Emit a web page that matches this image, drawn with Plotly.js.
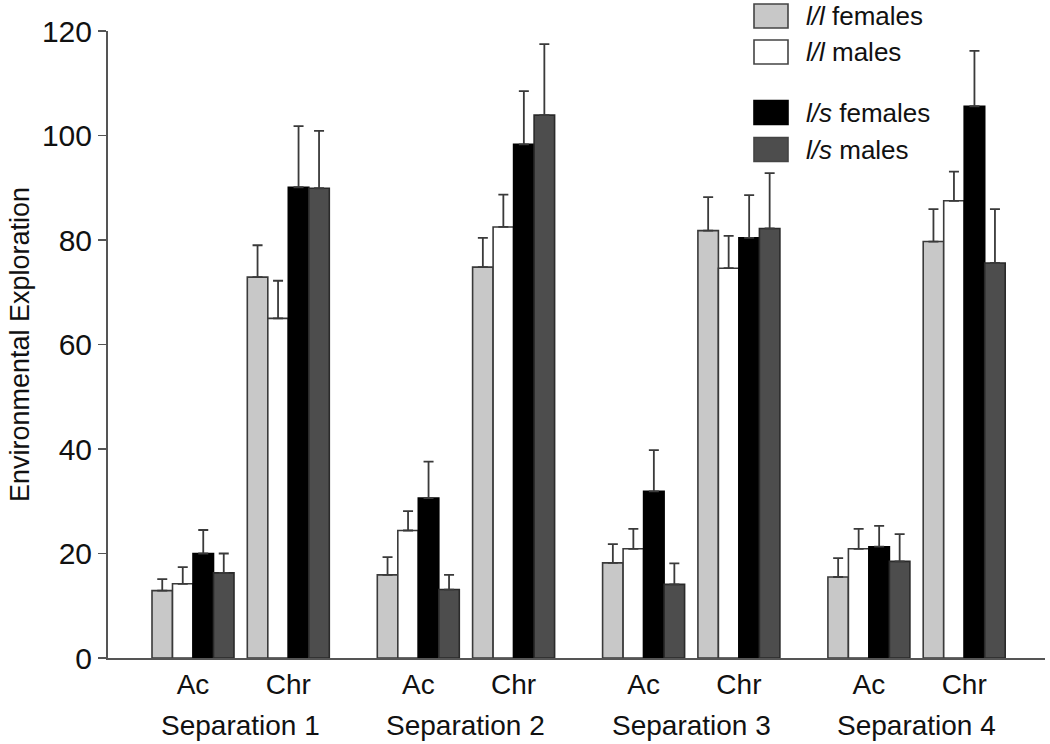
<!DOCTYPE html>
<html>
<head>
<meta charset="utf-8">
<script src="https://cdn.plot.ly/plotly-3.0.1.min.js"></script>
<style>html,body{margin:0;padding:0;background:#fff;}#chart{width:1050px;height:744px;}</style>
</head>
<body>
<div id="chart"></div>
<script>
// ---- data ----
const conditions = ['Ac', 'Chr'];
const separations = ['Separation 1', 'Separation 2', 'Separation 3', 'Separation 4'];
const seriesNames = ['<i>l/l</i> females', '<i>l/l</i> males', '<i>l/s</i> females', '<i>l/s</i> males'];
// order: S1 Ac, S1 Chr, S2 Ac, S2 Chr, S3 Ac, S3 Chr, S4 Ac, S4 Chr
const llFemales    = [12.9, 72.9, 15.9, 74.8, 18.2, 81.8, 15.5, 79.7];
const llFemalesErr = [2.2, 6.1, 3.4, 5.6, 3.6, 6.4, 3.6, 6.2];
const llMales      = [14.2, 65.0, 24.4, 82.5, 20.9, 74.6, 20.9, 87.5];
const llMalesErr   = [3.2, 7.2, 3.7, 6.2, 3.8, 6.2, 3.8, 5.6];
const lsFemales    = [20.0, 90.1, 30.6, 98.3, 31.9, 80.4, 21.3, 105.6];
const lsFemalesErr = [4.5, 11.7, 7.0, 10.2, 7.9, 8.2, 4.0, 10.6];
const lsMales      = [16.3, 89.9, 13.1, 103.9, 14.1, 82.2, 18.5, 75.6];
const lsMalesErr   = [3.7, 11.0, 2.8, 13.6, 4.0, 10.6, 5.2, 10.3];
const yTicks = [0, 20, 40, 60, 80, 100, 120];

// ---- layout helpers ----
const W = 1050, H = 744;
const M = {l: 108, r: 5, t: 31, b: 86};
const SEP_STEP = 225.3, COND_STEP = 95.3;
const XR = [-85, 852];
const FONT = 'Liberation Sans, Arial, Helvetica, sans-serif';
const colors = ['#c8c8c8', '#ffffff', '#000000', '#4d4d4d'];
const lineColors = ['#3a3a3a', '#3a3a3a', '#000000', '#2a2a2a'];
const values = [llFemales, llMales, lsFemales, lsMales];
const errs = [llFemalesErr, llMalesErr, lsFemalesErr, lsMalesErr];

const xPos = [];
const xLabels = [];
separations.forEach((s, si) => conditions.forEach((c, ci) => {
  xPos.push(si * SEP_STEP + ci * COND_STEP);
  xLabels.push(c);
}));

const BW = 20.5;
const traces = values.map((v, i) => ({
  type: 'bar',
  name: seriesNames[i],
  x: xPos,
  y: v,
  width: BW,
  offset: -2 * BW + i * BW,
  marker: {color: colors[i], line: {color: lineColors[i], width: 1.6}},
  error_y: {type: 'data', symmetric: false, array: errs[i], arrayminus: v.map(() => 0),
            color: '#3a3a3a', thickness: 1.8, width: 5},
  showlegend: false,
  hoverinfo: 'skip'
}));

const plotW = W - M.l - M.r, plotH = H - M.t - M.b;
const px2x = px => (px - M.l) / plotW;
const py2y = py => (H - M.b - py) / plotH;

const shapes = [];
const annotations = [];
const legendRows = [16, 52, 112.5, 149.5];
seriesNames.forEach((n, i) => {
  shapes.push({type: 'rect', xref: 'paper', yref: 'paper',
    x0: px2x(754), x1: px2x(788), y0: py2y(legendRows[i] + 12), y1: py2y(legendRows[i] - 12),
    fillcolor: colors[i], line: {color: i === 2 ? '#000' : '#444', width: 1.6}});
  annotations.push({xref: 'paper', yref: 'paper', x: px2x(804), y: py2y(legendRows[i]),
    xanchor: 'left', yanchor: 'middle', text: n, showarrow: false,
    font: {family: FONT, size: 26, color: '#111'}});
});
separations.forEach((s, si) => {
  annotations.push({xref: 'x', yref: 'paper', x: si * SEP_STEP + COND_STEP / 2, y: py2y(725),
    xanchor: 'center', yanchor: 'middle', text: s, showarrow: false,
    font: {family: FONT, size: 28, color: '#111'}});
});

const layout = {
  width: W, height: H,
  margin: M,
  paper_bgcolor: '#fff', plot_bgcolor: '#fff',
  barmode: 'overlay',
  showlegend: false,
  font: {family: FONT, color: '#111'},
  xaxis: {
    range: XR, showgrid: false, zeroline: false,
    showline: true, linecolor: '#555', linewidth: 2,
    tickmode: 'array', tickvals: xPos, ticktext: xLabels,
    ticks: '', tickfont: {family: FONT, size: 28, color: '#111'},
    fixedrange: true
  },
  yaxis: {
    range: [0, 120], tickmode: 'array', tickvals: yTicks, ticktext: yTicks.map(String),
    showgrid: false, zeroline: false,
    showline: true, linecolor: '#555', linewidth: 2,
    ticks: 'outside', ticklen: 8, tickwidth: 1.5, tickcolor: '#555',
    tickfont: {family: FONT, size: 30, color: '#111'},
    title: {text: 'Environmental Exploration', font: {family: FONT, size: 27, color: '#111'}, standoff: 4},
    fixedrange: true
  },
  shapes: shapes,
  annotations: annotations
};

Plotly.newPlot('chart', traces, layout, {displayModeBar: false, staticPlot: true});
</script>
</body>
</html>
